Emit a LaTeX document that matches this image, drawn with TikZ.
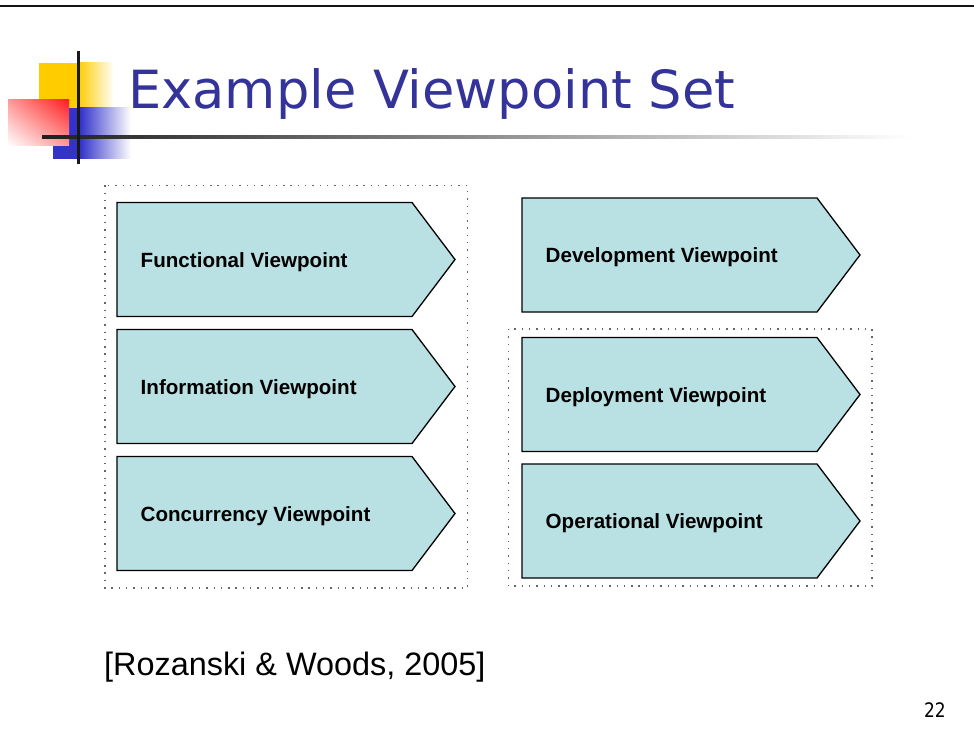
\documentclass[tikz,border=0pt]{standalone}
\usepackage{fontspec}
\usetikzlibrary{shadings}
\setmainfont{Liberation Sans}
\newfontfamily\titlefont{DejaVu Sans}
\newfontfamily\pagefont[FakeStretch=0.85]{DejaVu Sans}

\definecolor{vpfill}{RGB}{185,224,227}
\definecolor{titleblue}{RGB}{51,51,153}
\definecolor{logoyellow}{RGB}{255,204,0}
\definecolor{logoblue}{RGB}{51,51,204}
\definecolor{logored}{RGB}{255,30,30}

\tikzset{
  vpshape/.style={draw=black, line width=1.3pt, fill=vpfill, line join=miter},
  vplabel/.style={anchor=base west, inner sep=0pt, font=\bfseries\fontsize{20.6}{24}\selectfont},
  dotframe/.style={draw=black!60, line width=1.4pt, dash pattern=on 1.4pt off 5.9pt}
}

\begin{document}
\begin{tikzpicture}[x=1pt, y=-1pt]
  \useasboundingbox (0,0) rectangle (974,738);
  \fill[white] (0,0) rectangle (974,738);

  % top rule
  \fill[black!92] (0,5) rectangle (974,7.5);

  % logo
  \fill[logoyellow] (39,63) rectangle (78,108);
  \shade[left color=logoyellow, right color=white] (78,63) rectangle (114,108);
  \fill[logoblue] (53,108) rectangle (80,159);
  \shade[left color=logoblue, right color=white] (80,108) rectangle (131,159);
  \shade[upper right=logored, lower left=white, upper left=logored!45, lower right=logored!45]
    (8,100) rectangle (69,146);
  \shade[left color=black!88, right color=white, middle color=black!45] (42,135.5) rectangle (910,139);
  \fill[black!90] (76.5,51) rectangle (79.5,164);

  % title
  \node[anchor=base west, inner sep=0pt, text=titleblue, font=\titlefont\fontsize{52.6}{60}\selectfont]
    (title) at (128,109) {Example Viewpoint Set};

  % dotted groups
  \draw[dotframe] (105,185.5) rectangle (467.5,588);
  \draw[dotframe] (508.5,329) rectangle (872,586);

  % viewpoint arrows
  \foreach \name/\x/\y/\txt in {func/117/202.5/Functional Viewpoint,
                               info/117/329.5/Information Viewpoint,
                               conc/117/456.5/Concurrency Viewpoint,
                               devl/522/198/Development Viewpoint,
                               depl/522/337.5/Deployment Viewpoint,
                               oper/522/464/Operational Viewpoint} {
    \draw[vpshape] (\x,\y) -- ++(295,0) -- ++(43,57) -- ++(-43,57) -- ++(-295,0) -- cycle;
    \node[vplabel] (\name) at (\x+23.5,\y+64.5) {\txt};
  }

  % reference and page number
  \node[anchor=base west, inner sep=0pt, font=\fontsize{32.4}{38}\selectfont]
    (cite) at (104,675) {[Rozanski \& Woods, 2005]};
  \node[anchor=base east, inner sep=0pt, font=\pagefont\fontsize{20}{24}\selectfont]
    (page) at (946,717) {22};
\end{tikzpicture}
\end{document}
